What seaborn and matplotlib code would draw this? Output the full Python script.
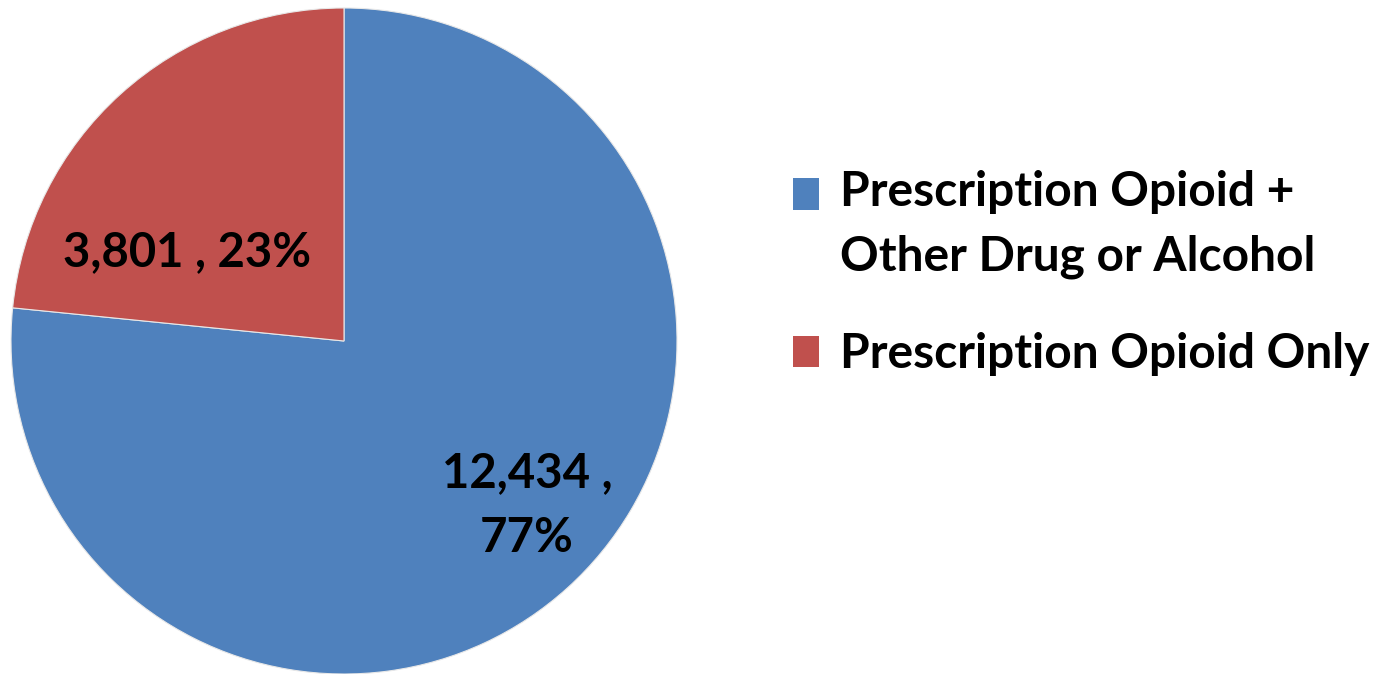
import matplotlib
matplotlib.use("Agg")
import matplotlib.pyplot as plt
import seaborn as sns

sns.set_theme(style="white")
plt.rcParams['font.family'] = ['Lato', 'DejaVu Sans']

categories = ["Prescription Opioid +\nOther Drug or Alcohol", "Prescription Opioid Only"]
values = [12434, 3801]
percents = ["77%", "23%"]
colors = ["#4F81BD", "#C0504D"]

fig = plt.figure(figsize=(13.93, 6.74), dpi=100)
ax = fig.add_axes([11/1393, 0/674, 666/1393, 666/674])

wedges, _ = ax.pie(values, colors=colors, startangle=90, counterclock=False,
                   radius=1.0, wedgeprops=dict(linewidth=0.8, edgecolor="#e8e8e8"))
ax.set_xlim(-1, 1)
ax.set_ylim(-1, 1)
ax.set_aspect("equal")
ax.axis("off")

label_texts = [f"{values[0]:,} ,\n{percents[0]}", f"{values[1]:,} , {percents[1]}"]
label_pos = [(0.55, -0.495), (-0.471, 0.267)]
for t, (x, y) in zip(label_texts, label_pos):
    ax.text(x, y, t, ha="center", va="center", fontsize=34, fontweight="bold",
            color="black", linespacing=1.57)

leg_fs = 34.5
leg = fig.legend(wedges, categories, loc="upper left",
                 bbox_to_anchor=(793/1393, 1 - 170/674), frameon=False,
                 prop=dict(size=leg_fs, weight="bold"), labelcolor="black",
                 handlelength=0.55, handleheight=0.63, handletextpad=0.44,
                 labelspacing=1.1, borderpad=0, borderaxespad=0)
for txt in leg.get_texts():
    txt.set_linespacing(1.58)
for h, lab in zip(leg.legend_handles, categories):
    h.set_edgecolor("none")
    n_extra = lab.count("\n")
    if n_extra:
        # align the swatch with the first line of a multi-line label
        h.set_y(h.get_y() + n_extra * 0.5 * 1.58 * 0.845 * leg_fs)

fig.savefig("out.png", dpi=100)
